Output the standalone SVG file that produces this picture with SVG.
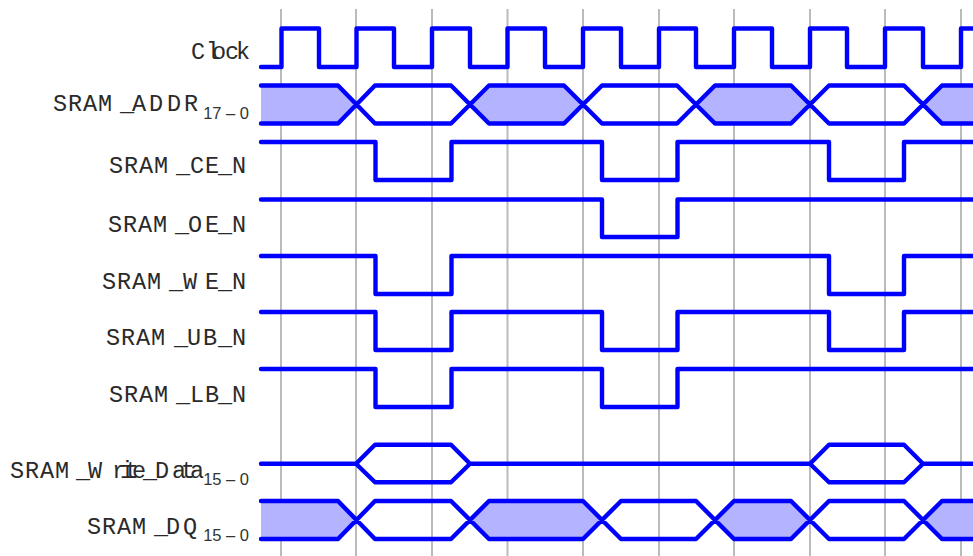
<svg xmlns="http://www.w3.org/2000/svg" width="973" height="556" viewBox="0 0 973 556">
<style>
.grid{stroke:#bbb;stroke-width:2;fill:none}
.w{stroke:#0000ff;stroke-width:4.4;fill:none;stroke-linejoin:round;stroke-linecap:round}
.f{fill:#b3b3ff;stroke:none}
text{font-family:"Liberation Mono","Courier New",monospace;fill:#2a2a2a}
.l{font-size:23.500px}
.s{font-family:"Liberation Sans",Arial,sans-serif;font-size:16.500px;text-anchor:end;fill:#333}
</style>
<rect width="973" height="556" fill="#fff"/>
<g id="grid">
<path class="grid" d="M281 9V556M356 9V556M432 9V556M507.500 9V556M583 9V556M659 9V556M734 9V556M810 9V556M885 9V556M961 9V556"/>
</g>
<g id="fills">
<path class="f" d="M261 85.500H338L356 104.500L338 123.500H261ZM470 104.500L489 85.500H564L583 104.500L564 123.500H489ZM696 104.500L715 85.500H791L810 104.500L791 123.500H715ZM923 104.500L942 85.500H973V123.500H942Z"/>
<path class="f" d="M261 501H338L356 520L338 539H261ZM470 520L489 501H583L602 520L583 539H489ZM715 520L734 501H791L810 520L791 539H734ZM923 520L942 501H973V539H942Z"/>
</g>
<g id="connectors">
<path id="w-clock" class="w" d="M261 67H281.500V28.500H319V67H356.500V28.500H394V67H432V28.500H470V67H507.500V28.500H545V67H583V28.500H621V67H659V28.500H696V67H734V28.500H772V67H810V28.500H847V67H885V28.500H923V67H961V28.500H973"/>
<path id="w-addr" class="w" d="M261 85.500H338L375 123.500H451L489 85.500H564L602 123.500H677L715 85.500H791L829 123.500H904L942 85.500H973M261 123.500H338L375 85.500H451L489 123.500H564L602 85.500H677L715 123.500H791L829 85.500H904L942 123.500H973"/>
<path id="w-ce" class="w" d="M261 142H375.500V180H451.500V142H602V180H677.500V142H829V180H904V142H973"/>
<path id="w-oe" class="w" d="M261 199.500H602V237H677.500V199.500H973"/>
<path id="w-we" class="w" d="M261 256H375.500V294H451.500V256H829V294H904V256H973"/>
<path id="w-ub" class="w" d="M261 312H375.500V350H451.500V312H602V350H677.500V312H829V350H904V312H973"/>
<path id="w-lb" class="w" d="M261 369H375.500V407H451.500V369H602V407H677.500V369H973"/>
<path id="w-wd" class="w" d="M261 463.700H356L375 444.700H451L470 463.700L451 482.300H375L356 463.700M470 463.700H810L829 444.700H904L923 463.700L904 482.300H829L810 463.700M923 463.700H973"/>
<path id="w-dq" class="w" d="M261 501H338L375 539H451L489 501H583L621 539H696L734 501H791L829 539H904L942 501H973M261 539H338L375 501H451L489 539H583L621 501H696L734 539H791L829 501H904L942 539H973"/>
</g>
<g id="clock"><text class="l" x="191 206 212 225 236" y="59">Clock</text></g>
<g id="addr"><text class="l" x="53 68 83 98 120 132 149 167 184" y="110.500">SRAM_ADDR</text><text class="s" x="249" y="118.500">17 – 0</text></g>
<g id="ce"><text class="l" x="109 124 139 154 176 190 205 218 232" y="172.500">SRAM_CE_N</text></g>
<g id="oe"><text class="l" x="108 123 138 153 175 188 205 218 232" y="231.500">SRAM_OE_N</text></g>
<g id="we"><text class="l" x="102 117 132 147 169 183 205 218 232" y="288.500">SRAM_WE_N</text></g>
<g id="ub"><text class="l" x="106 121 136 151 174 187 203 218 232" y="344.500">SRAM_UB_N</text></g>
<g id="lb"><text class="l" x="109 124 139 154 176 190 205 218 232" y="401.500">SRAM_LB_N</text></g>
<g id="wd"><text class="l" x="10 25 40 55 76 88 112 120 125 132 143 155 172 181 190" y="477.500">SRAM_Write_Data</text><text class="s" x="249" y="485">15 – 0</text></g>
<g id="dq"><text class="l" x="87 102 117 132 154 166 183" y="534">SRAM_DQ</text><text class="s" x="249" y="541">15 – 0</text></g>
</svg>
